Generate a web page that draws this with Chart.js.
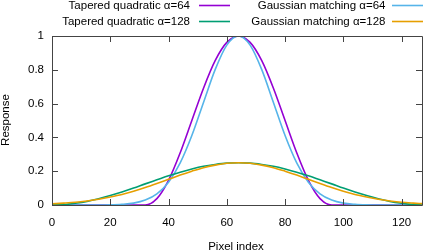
<!DOCTYPE html>
<html>
<head>
<meta charset="utf-8">
<script src="https://cdn.jsdelivr.net/npm/chart.js@4/dist/chart.umd.min.js"></script>
<style>
  html, body { margin: 0; padding: 0; background: #fff; }
  #wrap { width: 425px; height: 252px; }
</style>
</head>
<body>
<div id="wrap"><canvas id="c" width="425" height="252"></canvas></div>
<script>
// pixel index samples
const pixelIdx = [0,4,8,12,16,20,24,28,32,36,40,44,48,52,56,60,64,68,72,76,80,84,88,92,96,100,104,108,112,116,120,124,127];

// response curves
const taperedQ64 = [0,0,0,0,0,0,0,0,0,0.038,0.146,0.309,0.5,0.691,0.854,0.962,1,0.962,0.854,0.691,0.5,0.309,0.146,0.038,0,0,0,0,0,0,0,0,0];
const gaussM64 = [0,0,0,0,0,0.001,0.004,0.011,0.029,0.066,0.135,0.249,0.411,0.607,0.801,0.946,1,0.946,0.801,0.607,0.411,0.249,0.135,0.066,0.029,0.011,0.004,0.001,0,0,0,0,0];
const taperedQ128 = [0,0.002,0.010,0.021,0.037,0.056,0.077,0.100,0.125,0.149,0.173,0.194,0.213,0.229,0.240,0.248,0.25,0.248,0.240,0.229,0.213,0.194,0.173,0.149,0.125,0.100,0.077,0.056,0.037,0.021,0.010,0.002,0];
const gaussM128 = [0.007,0.011,0.016,0.024,0.034,0.047,0.062,0.081,0.103,0.127,0.152,0.177,0.200,0.221,0.236,0.247,0.25,0.247,0.236,0.221,0.200,0.177,0.152,0.127,0.103,0.081,0.062,0.047,0.034,0.024,0.016,0.011,0.008];

const xTicks = [0,20,40,60,80,100,120];
const yTicks = [0,0.2,0.4,0.6,0.8,1];

const seriesNames = ['Tapered quadratic α=64', 'Gaussian matching α=64', 'Tapered quadratic α=128', 'Gaussian matching α=128'];
const seriesColors = ['#9400D3', '#56B4E9', '#009E73', '#E69F00'];
const seriesData = [taperedQ64, gaussM64, taperedQ128, gaussM128];

const FONT_FAMILY = '"Liberation Sans", Arial, sans-serif';
const FONT = '11.5px ' + FONT_FAMILY;

function toPoints(ys) {
    return pixelIdx.map((x, i) => ({ x: x, y: ys[i] }));
}

// gnuplot-like frame, inward ticks, key and axis labels
const gnuFrame = {
    id: 'gnuFrame',
    afterDraw(chart) {
        const ctx = chart.ctx;
        const a = chart.chartArea;
        const xs = chart.scales.x, ys = chart.scales.y;
        ctx.save();
        ctx.strokeStyle = '#444';
        ctx.lineWidth = 1;
        ctx.beginPath();
        ctx.rect(Math.round(a.left) + 0.5, Math.round(a.top) + 0.5, Math.round(a.right - a.left), Math.round(a.bottom - a.top));
        const tl = 6;
        xTicks.forEach(v => {
            const px = Math.round(xs.getPixelForValue(v)) + 0.5;
            ctx.moveTo(px, a.bottom); ctx.lineTo(px, a.bottom - tl);
            ctx.moveTo(px, a.top); ctx.lineTo(px, a.top + tl);
        });
        yTicks.forEach(v => {
            const py = Math.round(ys.getPixelForValue(v)) + 0.5;
            ctx.moveTo(a.left, py); ctx.lineTo(a.left + tl, py);
            ctx.moveTo(a.right, py); ctx.lineTo(a.right - tl, py);
        });
        ctx.stroke();

        // key
        ctx.font = FONT;
        ctx.fillStyle = '#000';
        ctx.textBaseline = 'middle';
        ctx.textAlign = 'right';
        const cols = [{ textR: 190, l0: 199, l1: 230 }, { textR: 385.5, l0: 392, l1: 423 }];
        const rows = [5.5, 21.5];
        seriesNames.forEach((name, i) => {
            const c = cols[i % 2], r = rows[Math.floor(i / 2)];
            ctx.fillText(name, c.textR, r);
            ctx.strokeStyle = seriesColors[i];
            ctx.lineWidth = 1.6;
            ctx.beginPath();
            ctx.moveTo(c.l0, r); ctx.lineTo(c.l1, r);
            ctx.stroke();
        });

        // axis titles
        ctx.textAlign = 'center';
        ctx.fillText('Pixel index', 236, 246.5);
        ctx.translate(6, 120);
        ctx.rotate(-Math.PI / 2);
        ctx.fillText('Response', 0, 0);
        ctx.restore();
    }
};

new Chart(document.getElementById('c'), {
    type: 'line',
    data: {
        datasets: seriesData.map((ys, i) => ({
            label: seriesNames[i],
            data: toPoints(ys),
            borderColor: seriesColors[i],
            borderWidth: 1.6,
            pointRadius: 0,
            fill: false,
            cubicInterpolationMode: 'monotone',
            order: 4 - i
        }))
    },
    options: {
        responsive: false,
        animation: false,
        layout: { padding: { top: 36, right: 3, left: 0, bottom: 0 } },
        plugins: { legend: { display: false }, tooltip: { enabled: false } },
        scales: {
            x: {
                type: 'linear', min: 0, max: 127,
                grid: { display: false, drawTicks: false },
                border: { display: false },
                afterBuildTicks: s => { s.ticks = xTicks.map(v => ({ value: v })); },
                afterFit: s => { s.height = 47; },
                ticks: { font: { family: FONT_FAMILY, size: 11.5 }, color: '#000', padding: 11, maxRotation: 0,
                         callback: v => String(v) }
            },
            y: {
                type: 'linear', min: 0, max: 1,
                grid: { display: false, drawTicks: false },
                border: { display: false },
                afterBuildTicks: s => { s.ticks = yTicks.map(v => ({ value: v })); },
                afterFit: s => { s.width = 52; },
                ticks: { font: { family: FONT_FAMILY, size: 11.5 }, color: '#000', padding: 8,
                         callback: v => String(+v.toFixed(1)) }
            }
        }
    },
    plugins: [gnuFrame]
});
</script>
</body>
</html>
